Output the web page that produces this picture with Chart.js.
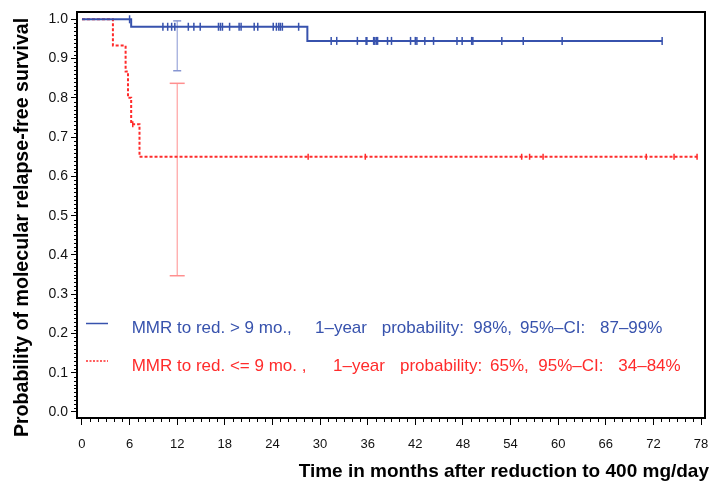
<!DOCTYPE html>
<html>
<head>
<meta charset="utf-8">
<title>Molecular relapse-free survival</title>
<script src="https://cdn.jsdelivr.net/npm/chart.js@4.4.0/dist/chart.umd.min.js"></script>
<style>
  html, body { margin: 0; padding: 0; background: #fff; }
  #wrap { width: 714px; height: 485px; position: relative; }
</style>
</head>
<body>
<div id="wrap"><canvas id="kmChart"></canvas></div>
<script>
// axis ticks
const xTicks = [0, 6, 12, 18, 24, 30, 36, 42, 48, 54, 60, 66, 72, 78];
const yTicks = [0.0, 0.1, 0.2, 0.3, 0.4, 0.5, 0.6, 0.7, 0.8, 0.9, 1.0];

// MMR to reduction > 9 months (blue, solid)
const blueTimes = [0, 6.2, 28.4, 73.1];
const blueSurv = [1.0, 0.981, 0.945, 0.945];
const blueCensor = [6.0, 10.2, 10.8, 11.3, 11.7, 13.4, 14.1, 14.9, 17.2, 17.45, 17.7, 18.6,
  19.8, 20.05, 21.7, 22.15, 24.1, 24.5, 24.8, 25.0, 25.25, 27.3,
  31.4, 32.1, 34.7, 35.8, 35.9, 36.75, 36.9, 37.1, 37.25, 38.5, 39.0, 41.4, 42.0, 42.2,
  43.2, 44.3, 47.25, 47.9, 49.1, 49.25, 52.9, 55.6, 60.5, 73.1];
const blueCI = [0.869, 0.996];

// MMR to reduction <= 9 months (red, dotted)
const redTimes = [0, 3.9, 5.5, 5.8, 6.2, 7.25, 77.5];
const redSurv = [1.0, 0.933, 0.867, 0.8, 0.733, 0.65, 0.65];
const redCensor = [6.4, 28.5, 35.7, 55.4, 56.4, 58.1, 71.1, 74.6, 77.5];
const redCI = [0.347, 0.837];

const ciMonth = 12;

const legendNames = ["MMR to red. > 9 mo.,", "MMR to red. <= 9 mo. ,"];
const legendProb = [
  ["1–year", "probability:", "98%,", "95%–CI:", "87–99%"],
  ["1–year", "probability:", "65%,", "95%–CI:", "34–84%"]
];
const xTitle = "Time in months after reduction to 400 mg/day";
const yTitle = "Probability of molecular relapse-free survival";

const BLUE = "#3752ad";
const BLUE_CI = "#8796d2";
const RED = "#ff2b2b";
const RED_CI = "#ff8f8f";
const FONT = "'Liberation Sans', Arial, Helvetica, sans-serif";

function pts(xs, ys) {
  return xs.map((x, i) => ({ x: x, y: ys[i] }));
}
// a censored case sits on the curve at its time
function survAt(times, surv, t) {
  let s = surv[0];
  for (let i = 0; i < times.length; i++) {
    if (times[i] <= t) s = surv[i];
  }
  return s;
}

const extras = {
  id: "extras",
  afterDraw(chart) {
    const { ctx, chartArea: a, scales } = chart;
    const x = scales.x, y = scales.y;
    ctx.save();
    // minor ticks
    ctx.strokeStyle = "#000";
    ctx.lineWidth = 1;
    ctx.beginPath();
    for (let m = 0; m <= 78; m++) {
      if (m % 6 === 0) continue;
      const px = Math.round(x.getPixelForValue(m)) + 0.5;
      ctx.moveTo(px, a.bottom);
      ctx.lineTo(px, a.bottom + 4);
    }
    for (let k = 0; k <= 100; k++) {
      if (k % 10 === 0) continue;
      const py = Math.round(y.getPixelForValue(k / 100)) + 0.5;
      ctx.moveTo(a.left - 3, py);
      ctx.lineTo(a.left, py);
    }
    ctx.stroke();
    // frame
    ctx.lineWidth = 2;
    ctx.strokeRect(a.left, a.top, a.right - a.left, a.bottom - a.top);

    // legend inside the plot
    const rows = [
      { color: BLUE, lineY: 323.5, textY: 333, dash: [], starts: [315, 381.7, 473.3, 520, 600] },
      { color: RED, lineY: 361, textY: 370.5, dash: [2, 1.5], starts: [333, 400, 490, 538.3, 618.3] }
    ];
    rows.forEach((r, i) => {
      ctx.strokeStyle = r.color;
      ctx.lineWidth = 1.5;
      ctx.setLineDash(r.dash);
      ctx.beginPath();
      ctx.moveTo(86, r.lineY);
      ctx.lineTo(108, r.lineY);
      ctx.stroke();
      ctx.setLineDash([]);
      ctx.fillStyle = r.color;
      ctx.font = "17px " + FONT;
      ctx.textAlign = "left";
      ctx.textBaseline = "alphabetic";
      ctx.fillText(legendNames[i], 131.7, r.textY);
      legendProb[i].forEach((s, j) => ctx.fillText(s, r.starts[j], r.textY));
    });

    // axis titles
    ctx.fillStyle = "#000";
    ctx.font = "bold 19px " + FONT;
    ctx.textAlign = "right";
    ctx.fillText(xTitle, 709, 476.5);
    ctx.font = "bold 19.6px " + FONT;
    ctx.translate(27.5, 227.5);
    ctx.rotate(-Math.PI / 2);
    ctx.textAlign = "center";
    ctx.fillText(yTitle, 0, 0);
    ctx.restore();
  }
};

const ctx = document.querySelector("#kmChart").getContext("2d");
const myChart = new Chart(ctx, {
  type: "line",
  data: {
    datasets: [
      {
        label: legendNames[0],
        data: pts(blueTimes, blueSurv),
        stepped: "before",
        borderColor: BLUE,
        borderWidth: 2,
        pointRadius: 0,
        fill: false,
      },
      {
        label: legendNames[1],
        data: pts(redTimes, redSurv),
        stepped: "before",
        borderColor: RED,
        borderWidth: 2,
        borderDash: [3, 2],
        pointRadius: 0,
        fill: false,
      },
      {
        type: "scatter",
        label: "censored >9",
        data: blueCensor.map((t) => ({ x: t, y: survAt(blueTimes, blueSurv, t) })),
        pointStyle: "line",
        rotation: 90,
        pointRadius: 4,
        borderColor: BLUE,
        borderWidth: 1.5,
      },
      {
        type: "scatter",
        label: "censored <=9",
        data: redCensor.map((t) => ({ x: t, y: survAt(redTimes, redSurv, t) })),
        pointStyle: "line",
        rotation: 90,
        pointRadius: 3,
        borderColor: RED,
        borderWidth: 1.5,
      },
      {
        label: "CI >9",
        data: [{ x: ciMonth, y: blueCI[0] }, { x: ciMonth, y: blueCI[1] }],
        borderColor: BLUE_CI,
        borderWidth: 1,
        pointStyle: "line",
        pointRadius: 4,
        pointBorderColor: BLUE_CI,
        pointBorderWidth: 1.5,
      },
      {
        label: "CI <=9",
        data: [{ x: ciMonth, y: redCI[0] }, { x: ciMonth, y: redCI[1] }],
        borderColor: RED_CI,
        borderWidth: 1,
        pointStyle: "line",
        pointRadius: 7.5,
        pointBorderColor: RED_CI,
        pointBorderWidth: 1.5,
      },
    ],
  },
  options: {
    responsive: true,
    maintainAspectRatio: false,
    animation: false,
    events: [],
    layout: { padding: { top: 12, right: 3, bottom: 0, left: 0 } },
    plugins: { legend: { display: false }, tooltip: { enabled: false } },
    scales: {
      x: {
        type: "linear",
        min: -0.625,
        max: 78.5,
        afterBuildTicks: (s) => { s.ticks = xTicks.map((v) => ({ value: v })); },
        afterFit: (s) => { s.height = 67; s.paddingLeft = 0; s.paddingRight = 0; },
        ticks: { autoSkip: false, maxRotation: 0, padding: 12, color: "#111",
          font: { size: 13, family: FONT }, callback: (v) => String(v) },
        grid: { drawOnChartArea: false, drawTicks: true, tickLength: 7, color: "#000", lineWidth: 1 },
        border: { display: false },
      },
      y: {
        min: -0.0153,
        max: 1.0186,
        afterBuildTicks: (s) => { s.ticks = yTicks.map((v) => ({ value: v })); },
        afterFit: (s) => { s.width = 77; s.paddingTop = 0; s.paddingBottom = 0; },
        ticks: { autoSkip: false, padding: 3, color: "#111",
          font: { size: 14, family: FONT }, callback: (v) => v.toFixed(1) },
        grid: { drawOnChartArea: false, drawTicks: true, tickLength: 6, color: "#000", lineWidth: 1 },
        border: { display: false },
      },
    },
  },
  plugins: [extras],
});
</script>
</body>
</html>
